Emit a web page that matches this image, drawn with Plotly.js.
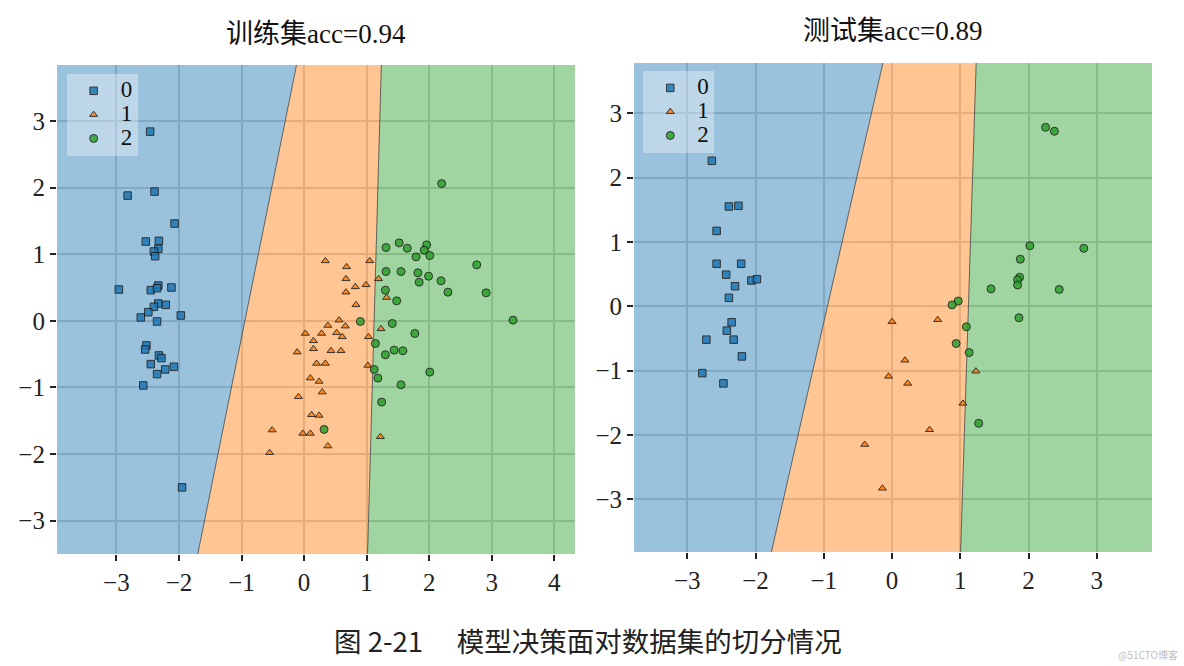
<!DOCTYPE html>
<html>
<head>
<meta charset="utf-8">
<script src="https://cdn.plot.ly/plotly-3.0.1.min.js"></script>
<style>
  html, body { margin: 0; padding: 0; background: #fff; }
  #chart { width: 1184px; height: 666px; }
</style>
</head>
<body>
<div id="chart"></div>
<script>
// training set points, by class
var trainX0 = [-2.46,-2.82,-2.39,-2.07,-2.53,-2.32,-2.33,-2.40,-2.38,-2.96,-2.45,-2.33,-2.35,-2.12,-2.33,-2.21,-2.40,-2.49,-2.61,-1.97,-2.35,-2.52,-2.54,-2.32,-2.28,-2.45,-2.22,-2.08,-2.35,-2.57,-1.95];
var trainY0 = [2.84,1.88,1.94,1.46,1.19,1.20,1.08,1.04,0.97,0.47,0.46,0.53,0.49,0.50,0.26,0.24,0.21,0.13,0.05,0.08,-0.01,-0.37,-0.43,-0.52,-0.56,-0.65,-0.73,-0.69,-0.80,-0.97,-2.50];
var trainX1 = [0.34,0.68,1.05,0.67,1.19,0.82,0.99,0.67,1.32,0.83,0.56,0.38,0.66,1.23,0.02,0.28,0.52,0.61,1.03,0.15,0.15,-0.11,0.43,0.59,0.20,0.34,1.02,0.10,0.24,0.29,-0.09,0.12,0.24,-0.02,0.10,0.38,1.22,-0.51,-0.55];
var trainY1 = [0.90,0.81,0.90,0.63,0.63,0.51,0.54,0.43,0.35,0.24,0.01,-0.07,-0.08,-0.12,-0.19,-0.19,-0.18,-0.24,-0.24,-0.30,-0.42,-0.47,-0.45,-0.45,-0.64,-0.64,-0.67,-0.86,-0.91,-1.07,-1.14,-1.41,-1.42,-1.69,-1.69,-1.88,-1.74,-1.64,-1.98];
var trainX2 = [2.20,1.52,1.31,1.65,1.96,1.92,1.79,2.01,2.76,1.31,1.55,1.82,1.99,1.84,2.19,1.30,2.30,2.91,1.48,3.34,0.90,1.41,1.77,1.14,1.44,1.58,1.30,1.12,1.18,2.01,1.55,1.24,0.32];
var trainY2 = [2.06,1.17,1.10,1.09,1.14,1.06,0.96,0.98,0.84,0.74,0.74,0.72,0.67,0.58,0.60,0.46,0.43,0.42,0.30,0.01,-0.01,-0.04,-0.19,-0.34,-0.44,-0.45,-0.51,-0.73,-0.86,-0.77,-0.96,-1.22,-1.63];

// test set points, by class
var testX0 = [-2.64,-2.39,-2.25,-2.57,-2.57,-2.21,-2.43,-2.06,-1.98,-2.30,-2.39,-2.35,-2.42,-2.72,-2.32,-2.20,-2.78,-2.47];
var testY0 = [2.26,1.55,1.56,1.17,0.66,0.66,0.49,0.40,0.42,0.31,0.13,-0.25,-0.38,-0.52,-0.52,-0.78,-1.04,-1.20];
var testX1 = [0.00,0.67,0.19,-0.05,0.23,1.23,1.04,0.55,-0.40,-0.14];
var testY1 = [-0.24,-0.21,-0.84,-1.09,-1.20,-1.01,-1.51,-1.92,-2.15,-2.83];
var testX2 = [2.25,2.38,2.02,2.81,1.88,1.87,1.84,1.84,1.45,2.45,0.97,0.88,1.86,1.09,0.94,1.13,1.27];
var testY2 = [2.78,2.72,0.94,0.90,0.73,0.45,0.41,0.33,0.27,0.26,0.08,0.02,-0.18,-0.32,-0.58,-0.72,-1.82];

// decision boundaries: x = a + b*y
var boundary01 = {a: -0.946, b: 0.215};
var boundary12 = {a: 1.12, b: 0.030};

var trainXRange = [-3.95, 4.33], trainYRange = [-3.5, 3.84];
var testXRange = [-3.78, 3.81], testYRange = [-3.82, 3.78];

var classNames = ['0', '1', '2'];
var classColors = ['#1f77b4', '#ff7f0e', '#2ca02c'];
var classSymbols = ['square', 'triangle-up', 'circle'];
var classSizes = [7.5, 7, 8];

function bx(b, y) { return b.a + b.b * y; }

function regions(xr, yr, xa, ya) {
  var y0 = yr[0], y1 = yr[1];
  var polys = [
    [[xr[0], xr[0], bx(boundary01, y1), bx(boundary01, y0), xr[0]], [y0, y1, y1, y0, y0]],
    [[bx(boundary01, y0), bx(boundary01, y1), bx(boundary12, y1), bx(boundary12, y0), bx(boundary01, y0)], [y0, y1, y1, y0, y0]],
    [[bx(boundary12, y0), bx(boundary12, y1), xr[1], xr[1], bx(boundary12, y0)], [y0, y1, y1, y0, y0]]
  ];
  var out = polys.map(function (p, i) {
    return {
      x: p[0], y: p[1], xaxis: xa, yaxis: ya, type: 'scatter', mode: 'lines',
      fill: 'toself', fillcolor: classColors[i], opacity: 0.45,
      line: {width: 0}, showlegend: false, hoverinfo: 'skip'
    };
  });
  [boundary01, boundary12].forEach(function (b) {
    out.push({
      x: [bx(b, y0), bx(b, y1)], y: [y0, y1], xaxis: xa, yaxis: ya,
      type: 'scatter', mode: 'lines', line: {color: 'rgba(70,70,70,0.8)', width: 1},
      showlegend: false, hoverinfo: 'skip'
    });
  });
  return out;
}

function points(xs, ys, xa, ya, leg) {
  return xs.map(function (x, i) {
    return {
      x: x, y: ys[i], xaxis: xa, yaxis: ya, legend: leg,
      type: 'scatter', mode: 'markers',
      name: '<span style="font-size:23px">' + classNames[i] + '</span>',
      marker: {symbol: classSymbols[i], size: classSizes[i], color: classColors[i],
               opacity: 0.85, line: {color: '#1a1a1a', width: 1}}
    };
  });
}

var data = []
  .concat(regions(trainXRange, trainYRange, 'x', 'y'))
  .concat(regions(testXRange, testYRange, 'x2', 'y2'))
  .concat(points([trainX0, trainX1, trainX2], [trainY0, trainY1, trainY2], 'x', 'y', 'legend'))
  .concat(points([testX0, testX1, testX2], [testY0, testY1, testY2], 'x2', 'y2', 'legend2'));

var serif = 'Liberation Serif, Noto Sans CJK SC, serif';

function axis(range, domain, anchor) {
  return {
    range: range, domain: domain, anchor: anchor,
    tickmode: 'linear', tick0: 0, dtick: 1,
    ticks: 'outside', ticklen: 6, tickwidth: 1.5, tickcolor: '#222',
    showgrid: true, gridcolor: '#d2d2d2', gridwidth: 1.5,
    zeroline: false, showline: false,
    tickfont: {family: serif, size: 25, color: '#222'}
  };
}

var legendStyle = {
  bgcolor: 'rgba(255,255,255,0.35)', borderwidth: 0,
  font: {family: serif, size: 16, color: '#111'},
  itemwidth: 44,
  xanchor: 'left', yanchor: 'top'
};

var layout = {
  width: 1184, height: 666,
  margin: {l: 0, r: 0, t: 0, b: 0},
  paper_bgcolor: '#fff', plot_bgcolor: '#fff',
  font: {family: serif},
  xaxis: axis(trainXRange, [0.0481, 0.4856], 'y'),
  yaxis: axis(trainYRange, [0.1682, 0.9024], 'x'),
  xaxis2: axis(testXRange, [0.5355, 0.9730], 'y2'),
  yaxis2: axis(testYRange, [0.1712, 0.9054], 'x2'),
  legend: Object.assign({x: 0.0563, y: 0.889}, legendStyle),
  legend2: Object.assign({x: 0.5433, y: 0.8934}, legendStyle),
  annotations: [
    {text: '训练集acc=0.94', xref: 'paper', yref: 'paper', x: 0.267, y: 0.949,
     xanchor: 'center', yanchor: 'middle',
     showarrow: false, font: {family: serif, size: 27, color: '#111'}},
    {text: '测试集acc=0.89', xref: 'paper', yref: 'paper', x: 0.754, y: 0.953,
     xanchor: 'center', yanchor: 'middle',
     showarrow: false, font: {family: serif, size: 27, color: '#111'}},
    {text: '图 2-21\u3000 模型决策面对数据集的切分情况', xref: 'paper', yref: 'paper', x: 0.497, y: 0.039,
     xanchor: 'center', yanchor: 'middle',
     showarrow: false, font: {family: 'Noto Sans CJK SC, sans-serif', size: 27.5, color: '#222'}},
    {text: '@51CTO博客', xref: 'paper', yref: 'paper', x: 0.970, y: 0.018,
     xanchor: 'center', yanchor: 'middle',
     showarrow: false, font: {family: 'Noto Sans CJK SC, sans-serif', size: 10, color: '#c0c0c0'}}
  ]
};

var config = {displayModeBar: false};

Plotly.newPlot('chart', data, layout, config);
</script>
</body>
</html>
